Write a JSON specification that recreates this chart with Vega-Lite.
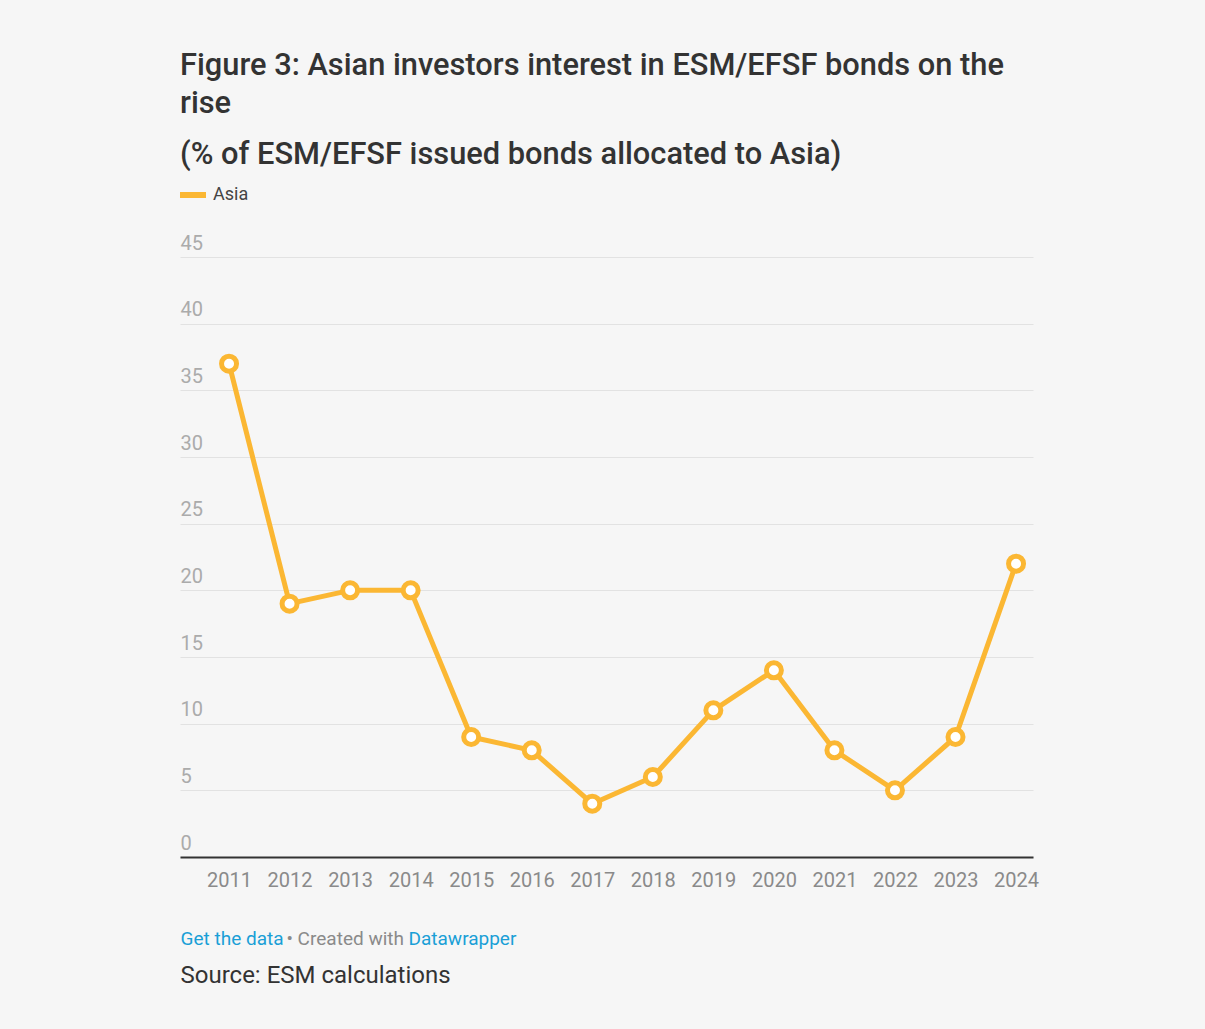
{
  "$schema": "https://vega.github.io/schema/vega-lite/v6.json",
  "width": 853,
  "height": 600,
  "autosize": {"type": "none"},
  "padding": {"left": 180, "top": 257, "right": 172, "bottom": 172},
  "background": "#f6f6f6",
  "title": {
    "text": ["Figure 3: Asian investors interest in ESM/EFSF bonds on the", "rise"],
    "subtitle": "(% of ESM/EFSF issued bonds allocated to Asia)",
    "anchor": "start",
    "frame": "group",
    "font": "Roboto",
    "fontSize": 30.8,
    "fontWeight": 500,
    "color": "#333333",
    "lineHeight": 38,
    "subtitleFont": "Roboto",
    "subtitleFontSize": 30.8,
    "subtitleFontWeight": 500,
    "subtitleColor": "#333333",
    "subtitlePadding": 20,
    "offset": 8
  },
  "data": {
    "values": [
      {"year": 2011, "value": 37, "series": "Asia"},
      {"year": 2012, "value": 19, "series": "Asia"},
      {"year": 2013, "value": 20, "series": "Asia"},
      {"year": 2014, "value": 20, "series": "Asia"},
      {"year": 2015, "value": 9, "series": "Asia"},
      {"year": 2016, "value": 8, "series": "Asia"},
      {"year": 2017, "value": 4, "series": "Asia"},
      {"year": 2018, "value": 6, "series": "Asia"},
      {"year": 2019, "value": 11, "series": "Asia"},
      {"year": 2020, "value": 14, "series": "Asia"},
      {"year": 2021, "value": 8, "series": "Asia"},
      {"year": 2022, "value": 5, "series": "Asia"},
      {"year": 2023, "value": 9, "series": "Asia"},
      {"year": 2024, "value": 22, "series": "Asia"}
    ]
  },
  "layer": [
    {
      "mark": {"type": "line", "strokeWidth": 5, "strokeJoin": "round", "strokeCap": "round"},
      "encoding": {
        "x": {
          "field": "year", "type": "quantitative",
          "scale": {"domain": [2010.19, 2024.28], "nice": false, "zero": false},
          "axis": {
            "orient": "bottom",
            "values": [2011, 2012, 2013, 2014, 2015, 2016, 2017, 2018, 2019, 2020, 2021, 2022, 2023, 2024],
            "format": "d",
            "grid": false,
            "ticks": false,
            "domain": true,
            "domainColor": "#333333",
            "domainWidth": 2,
            "labelFont": "Roboto",
            "labelFontSize": 20,
            "labelColor": "#8a8a8a",
            "labelPadding": 13,
            "labelFlush": false,
            "title": "Source: ESM calculations",
            "titleFont": "Roboto",
            "titleFontSize": 24,
            "titleFontWeight": "normal",
            "titleColor": "#333333",
            "titleAlign": "left",
            "titleAnchor": "start",
            "titleBaseline": "alphabetic",
            "titleX": 0,
            "titleY": 125
          }
        },
        "y": {
          "field": "value", "type": "quantitative",
          "scale": {"domain": [0, 45], "nice": false},
          "axis": {
            "orient": "left",
            "values": [0, 5, 10, 15, 20, 25, 30, 35, 40, 45],
            "grid": true,
            "gridColor": "#e2e2e2",
            "gridWidth": 1,
            "ticks": false,
            "tickSize": 0,
            "domain": false,
            "labelAlign": "left",
            "labelBaseline": "alphabetic",
            "labelPadding": 0,
            "labelOffset": -8,
            "labelFont": "Roboto",
            "labelFontSize": 20,
            "labelColor": "#ababab",
            "title": "Get the data",
            "titleFont": "Roboto",
            "titleFontSize": 19,
            "titleFontWeight": "normal",
            "titleColor": "#1a9fd6",
            "titleAngle": 0,
            "titleAlign": "left",
            "titleBaseline": "alphabetic",
            "titleX": 0,
            "titleY": 687
          }
        },
        "color": {
          "field": "series", "type": "nominal",
          "scale": {"range": ["#fbb733"]},
          "legend": {
            "orient": "none",
            "legendX": -3,
            "legendY": -78,
            "title": null,
            "padding": 0,
            "symbolType": "stroke",
            "symbolSize": 676,
            "symbolStrokeWidth": 6,
            "labelFont": "Roboto",
            "labelFontSize": 18,
            "labelColor": "#444444",
            "labelOffset": 4
          }
        }
      }
    },
    {
      "mark": {"type": "point", "filled": false, "fill": "#ffffff", "stroke": "#fbb733", "strokeWidth": 5, "size": 225, "opacity": 1},
      "encoding": {
        "x": {
          "field": "year", "type": "quantitative",
          "scale": {"domain": [2010.19, 2024.28], "nice": false, "zero": false},
          "axis": {
            "orient": "top",
            "labels": false, "ticks": false, "domain": false, "grid": false,
            "title": "• Created with",
            "titleFont": "Roboto",
            "titleFontSize": 19,
            "titleFontWeight": "normal",
            "titleColor": "#8a8a8a",
            "titleAlign": "left",
            "titleAnchor": "start",
            "titleBaseline": "alphabetic",
            "titleX": 106,
            "titleY": 687
          }
        },
        "y": {
          "field": "value", "type": "quantitative",
          "scale": {"domain": [0, 45], "nice": false},
          "axis": {
            "orient": "right",
            "labels": false, "ticks": false, "domain": false, "grid": false,
            "title": "Datawrapper",
            "titleFont": "Roboto",
            "titleFontSize": 19,
            "titleFontWeight": "normal",
            "titleColor": "#1a9fd6",
            "titleAngle": 0,
            "titleAlign": "left",
            "titleBaseline": "alphabetic",
            "titleX": -625,
            "titleY": 687
          }
        }
      }
    }
  ],
  "resolve": {"scale": {"x": "independent", "y": "independent"}},
  "config": {
    "view": {"stroke": null},
    "font": "Roboto"
  }
}
